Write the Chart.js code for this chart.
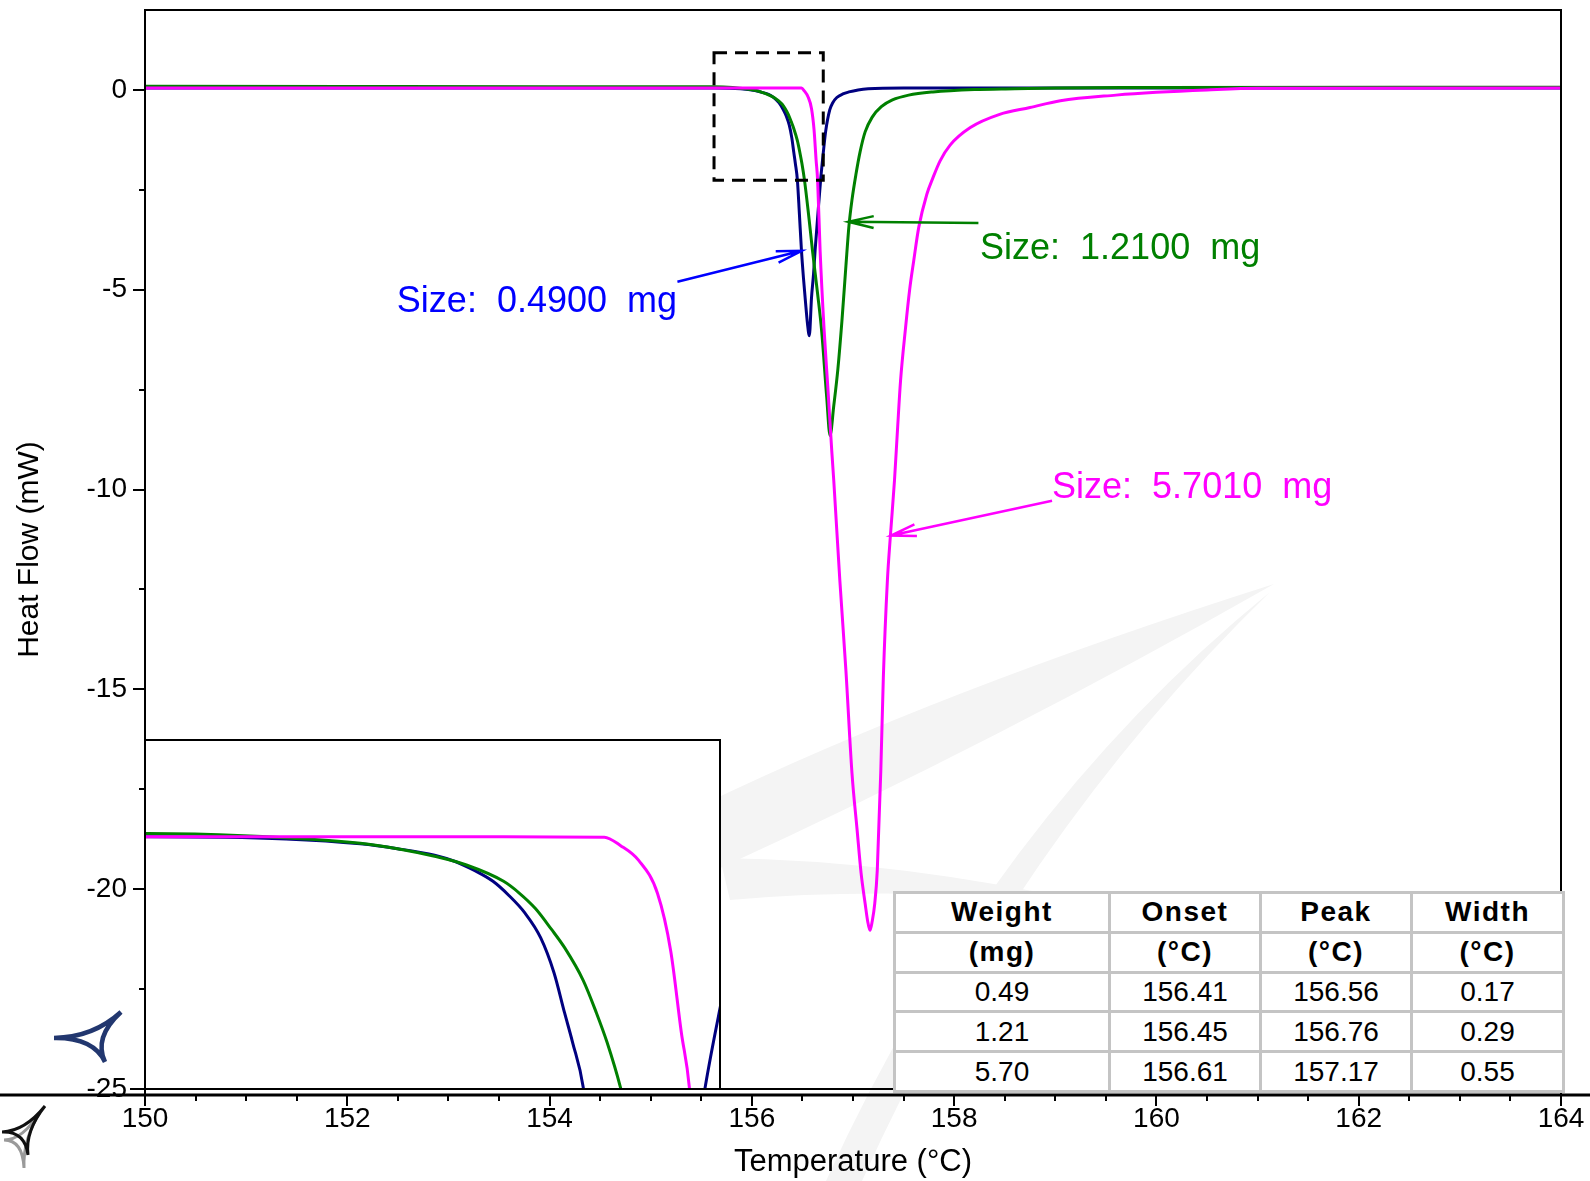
<!DOCTYPE html>
<html>
<head>
<meta charset="utf-8">
<title>DSC melting peaks</title>
<script src="https://cdn.jsdelivr.net/npm/chart.js@4.4.1/dist/chart.umd.min.js"></script>
<style>
  html, body { margin: 0; padding: 0; background: #fff; }
  #wrap { position: relative; width: 1590px; height: 1181px; overflow: hidden; }
  #mainChart { position: absolute; left: 0; top: 0; }
  #insetBox { position: absolute; left: 146px; top: 739px; width: 575px; height: 349px;
    background: #fff; border-top: 2px solid #000; border-right: 2px solid #000; box-sizing: border-box; }
  #insetChart { display: block; }
  #peakTable { position: absolute; left: 893px; top: 891px; width: 669px; height: 202px;
    border-collapse: collapse; table-layout: fixed; background: #fff;
    font-family: Arial, "Liberation Sans", sans-serif; font-size: 28px; color: #000; }
  #peakTable td, #peakTable th { border: 3px solid #c4c4c4; text-align: center; padding: 0; line-height: 1; }
  #peakTable th { font-weight: bold; letter-spacing: 1.5px; }
</style>
</head>
<body>
<div id="wrap">
  <canvas id="mainChart" width="1590" height="1181"></canvas>
  <div id="insetBox"><canvas id="insetChart" width="573" height="347"></canvas></div>
  <table id="peakTable">
    <colgroup><col style="width:215px"><col style="width:151px"><col style="width:151px"><col style="width:152px"></colgroup>
    <tbody id="peakBody"></tbody>
  </table>
</div>
<script>
// heat flow curves (temperature in °C, heat flow in mW)
const blueTemp = [150, 152, 154, 155, 155.63, 155.89, 156.03, 156.10, 156.17, 156.21, 156.245, 156.28, 156.31, 156.34,
  156.37, 156.395, 156.415, 156.43, 156.45, 156.47, 156.49, 156.51, 156.53, 156.55, 156.568, 156.59, 156.61, 156.625,
  156.65, 156.68, 156.705, 156.73, 156.77, 156.80, 156.84, 156.90, 156.96, 157.05, 157.15, 157.5, 160, 164];
const blueFlow = [0.05, 0.05, 0.05, 0.05, 0.05, 0.03, -0.015, -0.06, -0.12, -0.18, -0.26, -0.36, -0.49, -0.65,
  -0.88, -1.2, -1.57, -1.84, -2.25, -3.1, -4.0, -4.7, -5.3, -5.85, -6.15, -5.19, -4.6, -4.03,
  -3.2, -2.25, -1.6, -1.03, -0.5, -0.32, -0.19, -0.1, -0.05, 0, 0.03, 0.05, 0.05, 0.05];

const greenTemp = [150, 152, 154, 155, 155.63, 155.81, 156.03, 156.10, 156.17, 156.23, 156.30, 156.33, 156.36, 156.39,
  156.415, 156.45, 156.475, 156.495, 156.52, 156.56, 156.60, 156.65, 156.69, 156.74, 156.773, 156.81, 156.85, 156.89,
  156.93, 156.96, 156.99, 157.03, 157.07, 157.12, 157.19, 157.28, 157.39, 157.55, 157.79, 158.2, 158.6, 159.0, 160, 164];
const greenFlow = [0.09, 0.085, 0.08, 0.08, 0.08, 0.06, -0.01, -0.06, -0.13, -0.21, -0.36, -0.47, -0.61, -0.80,
  -0.97, -1.27, -1.57, -1.84, -2.25, -3.1, -4.03, -5.1, -6.03, -7.69, -8.65, -7.9, -7.0, -5.8,
  -4.4, -3.4, -2.75, -2.1, -1.55, -1.05, -0.68, -0.42, -0.25, -0.13, -0.05, 0.01, 0.03, 0.05, 0.06, 0.07];

const magentaTemp = [150, 152, 154, 155, 155.63, 156.0, 156.30, 156.49, 156.52, 156.555, 156.59, 156.615, 156.635, 156.65,
  156.675, 156.715, 156.75, 156.79, 156.81, 156.87, 156.93, 156.99, 157.04, 157.08, 157.12, 157.145, 157.168, 157.19,
  157.215, 157.24, 157.275, 157.30, 157.34, 157.37, 157.41, 157.44, 157.47, 157.52, 157.56, 157.60, 157.65, 157.73,
  157.79, 157.86, 157.96, 158.16, 158.45, 158.75, 159.05, 159.6, 160.0, 160.5, 161, 164];
const magentaFlow = [0.05, 0.05, 0.05, 0.05, 0.05, 0.05, 0.05, 0.046, -0.03, -0.17, -0.47, -1.0, -1.75, -2.25,
  -4.03, -6.03, -7.4, -9.03, -9.78, -12.28, -14.53, -17.1, -18.5, -19.6, -20.36, -20.8, -21.03, -20.8,
  -20.36, -19.53, -17.03, -14.7, -12.28, -11.15, -9.78, -8.5, -7.28, -5.94, -5.0, -4.28, -3.44, -2.61,
  -2.2, -1.78, -1.38, -0.94, -0.61, -0.44, -0.27, -0.13, -0.06, 0.0, 0.04, 0.05];

const seriesNames = ['Size:  0.4900  mg', 'Size:  1.2100  mg', 'Size:  5.7010  mg'];

// axes
const tempMin = 150, tempMax = 164, tempStep = 2;
const flowMin = -25, flowMax = 2, flowStep = 5;

// zoomed window shown in the inset (dashed box)
const insetTemp = [155.626, 156.706];
const insetFlow = [-2.26, 0.93];

// results table
const tableHead = ['Weight', 'Onset', 'Peak', 'Width'];
const tableUnit = ['(mg)', '(°C)', '(°C)', '(°C)'];
const tableWeight = ['0.49', '1.21', '5.70'];
const tableOnset = ['156.41', '156.45', '156.61'];
const tablePeak = ['156.56', '156.76', '157.17'];
const tableWidth = ['0.17', '0.29', '0.55'];

// annotation anchors (data units)
const noteAt = [[152.49, -5.55], [158.256, -4.225], [158.968, -10.2]];
const arrowFrom = [[155.264, -4.80], [158.24, -3.33], [158.968, -10.28]];
const arrowTo = [[156.493, -4.025], [156.954, -3.30], [157.375, -11.15]];

const FONT = 'Arial, "Liberation Sans", sans-serif';
const lineColors = ['#000080', '#008000', '#ff00ff'];
const noteColors = ['#0000ff', '#008000', '#ff00ff'];

function zip(xs, ys) {
  return xs.map((x, i) => ({ x: x, y: ys[i] }));
}

function makeDatasets(width) {
  const temps = [blueTemp, greenTemp, magentaTemp];
  const flows = [blueFlow, greenFlow, magentaFlow];
  return temps.map((t, i) => ({
    label: seriesNames[i],
    data: zip(t, flows[i]),
    borderColor: lineColors[i],
    borderWidth: width,
    pointRadius: 0,
    fill: false,
    cubicInterpolationMode: 'monotone',
    order: 2 - i
  }));
}

function drawStar(ctx, a, b, c, color, width) {
  const cx = (a[0] + b[0] + c[0]) / 3, cy = (a[1] + b[1] + c[1]) / 3;
  ctx.strokeStyle = color;
  ctx.lineWidth = width;
  ctx.beginPath();
  ctx.moveTo(a[0], a[1]);
  ctx.quadraticCurveTo(cx, cy, b[0], b[1]);
  ctx.quadraticCurveTo(cx, cy, c[0], c[1]);
  ctx.quadraticCurveTo(cx, cy, a[0], a[1]);
  ctx.stroke();
}

function drawArrow(ctx, x0, y0, x1, y1, color) {
  const ang = Math.atan2(y1 - y0, x1 - x0);
  const len = 26, spread = 0.23;
  ctx.strokeStyle = color;
  ctx.lineWidth = 2.5;
  ctx.beginPath();
  ctx.moveTo(x0, y0);
  ctx.lineTo(x1, y1);
  ctx.moveTo(x1 - len * Math.cos(ang - spread), y1 - len * Math.sin(ang - spread));
  ctx.lineTo(x1, y1);
  ctx.lineTo(x1 - len * Math.cos(ang + spread), y1 - len * Math.sin(ang + spread));
  ctx.stroke();
}

const framePlugin = {
  id: 'frame',
  beforeDraw(chart) {
    // faint watermark swooshes behind the plot
    const ctx = chart.ctx;
    ctx.save();
    ctx.fillStyle = '#f4f4f4';
    ctx.beginPath();
    ctx.moveTo(700, 806);
    ctx.quadraticCurveTo(940, 690, 1274, 584);
    ctx.quadraticCurveTo(1000, 740, 716, 870);
    ctx.quadraticCurveTo(700, 840, 700, 806);
    ctx.fill();
    ctx.beginPath();
    ctx.moveTo(1270, 592);
    ctx.quadraticCurveTo(990, 820, 826, 1181);
    ctx.lineTo(862, 1181);
    ctx.quadraticCurveTo(1015, 840, 1270, 592);
    ctx.fill();
    ctx.beginPath();
    ctx.moveTo(720, 858);
    ctx.quadraticCurveTo(900, 860, 1100, 905);
    ctx.quadraticCurveTo(900, 885, 730, 900);
    ctx.closePath();
    ctx.fill();
    ctx.restore();
  },
  afterDraw(chart) {
    const { ctx, chartArea: a, scales: { x, y } } = chart;
    const axisY = a.bottom + 6;
    ctx.save();
    ctx.strokeStyle = '#000';
    ctx.lineWidth = 2;
    ctx.beginPath();
    ctx.moveTo(a.left, axisY);
    ctx.lineTo(a.left, a.top);
    ctx.lineTo(a.right, a.top);
    ctx.lineTo(a.right, axisY);
    ctx.moveTo(a.left - 15, a.bottom);
    ctx.lineTo(a.right, a.bottom);
    ctx.stroke();

    // y ticks: majors every 5, minors every 2.5
    for (let v = flowMin; v <= 0; v += flowStep / 2) {
      const py = Math.round(y.getPixelForValue(v));
      const len = v % flowStep === 0 ? 12 : 6;
      ctx.beginPath();
      ctx.moveTo(a.left - len, py);
      ctx.lineTo(a.left, py);
      ctx.stroke();
    }
    // long temperature axis line and its ticks
    ctx.lineWidth = 3;
    ctx.beginPath();
    ctx.moveTo(0, axisY);
    ctx.lineTo(chart.width, axisY);
    ctx.stroke();
    ctx.lineWidth = 2;
    for (let v = tempMin; v <= tempMax; v += 0.5) {
      const px = Math.round(x.getPixelForValue(v));
      const len = v % tempStep === 0 ? 11 : 6;
      ctx.beginPath();
      ctx.moveTo(px, axisY);
      ctx.lineTo(px, axisY + len);
      ctx.stroke();
    }

    // dashed box marking the zoomed window
    const bx0 = x.getPixelForValue(insetTemp[0]), bx1 = x.getPixelForValue(insetTemp[1]);
    const by0 = y.getPixelForValue(insetFlow[1]), by1 = y.getPixelForValue(insetFlow[0]);
    ctx.setLineDash([13, 8]);
    ctx.lineWidth = 3;
    ctx.strokeRect(bx0, by0, bx1 - bx0, by1 - by0);
    ctx.setLineDash([]);

    // size labels with arrows
    ctx.font = '36px ' + FONT;
    ctx.textAlign = 'left';
    ctx.textBaseline = 'alphabetic';
    seriesNames.forEach((name, i) => {
      drawArrow(ctx,
        x.getPixelForValue(arrowFrom[i][0]), y.getPixelForValue(arrowFrom[i][1]),
        x.getPixelForValue(arrowTo[i][0]), y.getPixelForValue(arrowTo[i][1]), noteColors[i]);
      ctx.fillStyle = noteColors[i];
      ctx.fillText(name, x.getPixelForValue(noteAt[i][0]), y.getPixelForValue(noteAt[i][1]));
    });

    // small logos bottom-left
    drawStar(ctx, [54, 1038], [121, 1012], [105, 1062], '#22376f', 4.5);
    drawStar(ctx, [4, 1140], [40, 1112], [24, 1168], '#9a9a9a', 3);
    drawStar(ctx, [2, 1132], [45, 1106], [28, 1155], '#111', 3);
    ctx.restore();
  }
};

const mainChart = new Chart(document.getElementById('mainChart'), {
  type: 'line',
  data: { datasets: makeDatasets(3) },
  options: {
    responsive: false,
    animation: false,
    layout: { padding: { left: 0, top: 10, right: 29, bottom: 0 } },
    plugins: { legend: { display: false }, tooltip: { enabled: false } },
    scales: {
      x: {
        type: 'linear',
        min: tempMin,
        max: tempMax,
        grid: { display: false, drawTicks: false },
        border: { display: false },
        ticks: { stepSize: tempStep, color: '#000', padding: 13, maxRotation: 0, autoSkip: false,
          font: { family: FONT, size: 28 } },
        title: { display: true, text: 'Temperature (°C)', color: '#000', padding: 0,
          font: { family: FONT, size: 31 } },
        afterFit: (s) => { s.height = 92; s.paddingLeft = 0; s.paddingRight = 0; }
      },
      y: {
        type: 'linear',
        min: flowMin,
        max: flowMax,
        grid: { display: false, drawTicks: false },
        border: { display: false },
        ticks: { stepSize: flowStep, includeBounds: false, color: '#000', padding: 18,
          font: { family: FONT, size: 28 } },
        title: { display: true, text: 'Heat Flow (mW)', color: '#000', padding: { top: 12, bottom: 0 },
          font: { family: FONT, size: 30 } },
        afterFit: (s) => { s.width = 145; s.paddingTop = 0; s.paddingBottom = 0; }
      }
    }
  },
  plugins: [framePlugin]
});

const insetChart = new Chart(document.getElementById('insetChart'), {
  type: 'line',
  data: { datasets: makeDatasets(3) },
  options: {
    responsive: false,
    animation: false,
    layout: { padding: 0 },
    plugins: { legend: { display: false }, tooltip: { enabled: false } },
    scales: {
      x: { type: 'linear', display: false, min: insetTemp[0], max: insetTemp[1] },
      y: { type: 'linear', display: false, min: insetFlow[0], max: insetFlow[1] }
    }
  }
});

// results table
const body = document.getElementById('peakBody');
function addRow(cells, tag) {
  const tr = document.createElement('tr');
  cells.forEach(c => {
    const td = document.createElement(tag);
    td.textContent = c;
    tr.appendChild(td);
  });
  body.appendChild(tr);
}
addRow(tableHead, 'th');
addRow(tableUnit, 'th');
tableWeight.forEach((w, i) => addRow([w, tableOnset[i], tablePeak[i], tableWidth[i]], 'td'));
</script>
</body>
</html>
